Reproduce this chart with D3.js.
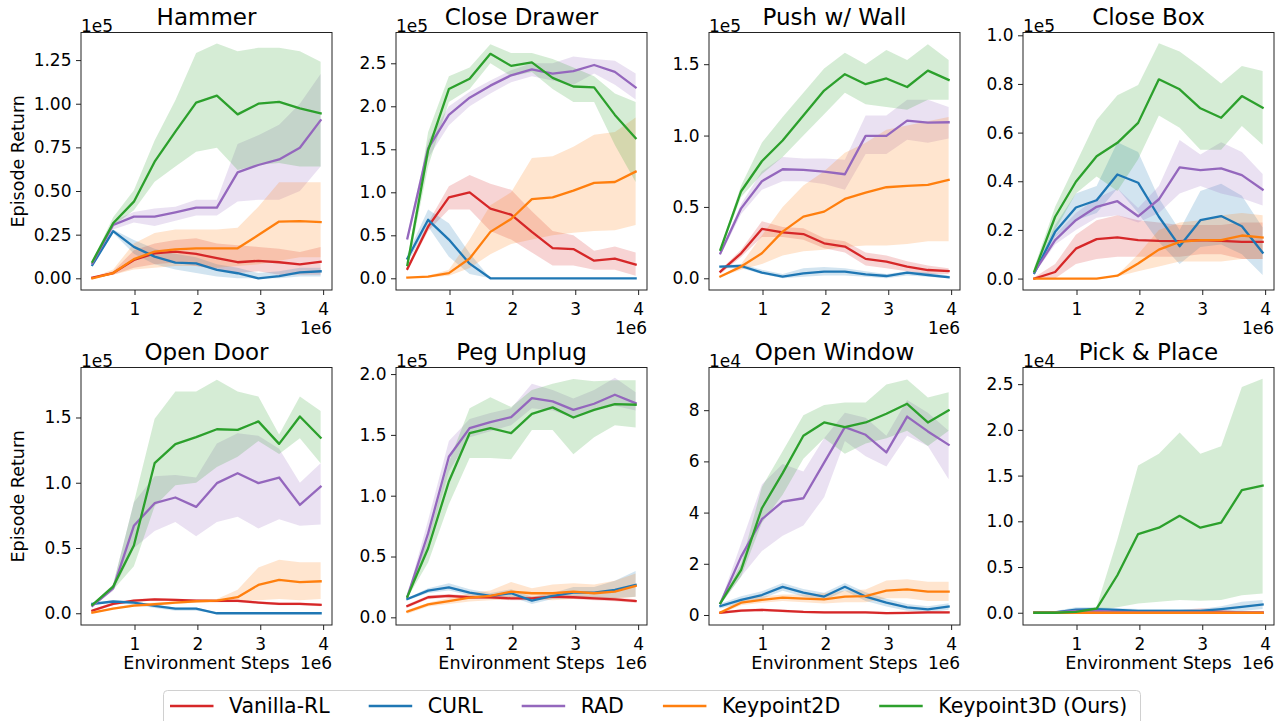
<!DOCTYPE html>
<html><head><meta charset="utf-8">
<script src="https://cdn.jsdelivr.net/npm/d3@7"></script>
<style>
html,body{margin:0;padding:0;background:#fff;}
svg text{font-family:"DejaVu Sans",sans-serif;fill:#000;}
</style></head>
<body>
<svg id="chart" width="1275" height="721"></svg>
<script>
// ---------- data ----------
const steps = [0.33, 0.66, 0.99, 1.32, 1.65, 1.98, 2.31, 2.64, 2.97, 3.30, 3.63, 3.96]; // x 1e6
const methods = ["Vanilla-RL", "CURL", "RAD", "Keypoint2D", "Keypoint3D (Ours)"];
const methodColors = ["#d62728", "#1f77b4", "#9467bd", "#ff7f0e", "#2ca02c"];
const tasks = ["Hammer", "Close Drawer", "Push w/ Wall", "Close Box", "Open Door", "Peg Unplug", "Open Window", "Pick & Place"];
const yExponent = ["1e5", "1e5", "1e5", "1e5", "1e5", "1e5", "1e4", "1e4"];
const yTicks = [
  [0, 0.25, 0.5, 0.75, 1.0, 1.25],
  [0, 0.5, 1.0, 1.5, 2.0, 2.5],
  [0, 0.5, 1.0, 1.5],
  [0, 0.2, 0.4, 0.6, 0.8, 1.0],
  [0, 0.5, 1.0, 1.5],
  [0, 0.5, 1.0, 1.5, 2.0],
  [0, 2, 4, 6, 8],
  [0, 0.5, 1.0, 1.5, 2.0, 2.5]
];
const yTickFormat = [".2f", ".1f", ".1f", ".1f", ".1f", ".1f", "d", ".1f"];
const yDomains = [[-0.067, 1.408], [-0.136, 2.858], [-0.082, 1.722], [-0.047, 1.0115],
                  [-0.09, 1.883], [-0.063, 2.054], [-0.391, 9.667], [-0.134, 2.682]];
const xTicks = [1, 2, 3, 4];
const xDomain = [0.149, 4.141];

// series order: Vanilla-RL, CURL, RAD, Keypoint2D, Keypoint3D
const hammerMean = [
  [0.004, 0.03, 0.105, 0.143, 0.153, 0.14, 0.115, 0.092, 0.1, 0.092, 0.08, 0.095],
  [0.076, 0.27, 0.18, 0.124, 0.09, 0.086, 0.048, 0.029, 0.0, 0.013, 0.034, 0.04],
  [0.086, 0.305, 0.353, 0.353, 0.378, 0.405, 0.405, 0.607, 0.649, 0.681, 0.748, 0.905],
  [0.0, 0.03, 0.11, 0.153, 0.166, 0.172, 0.172, 0.172, 0.248, 0.325, 0.328, 0.322],
  [0.095, 0.315, 0.439, 0.668, 0.84, 1.006, 1.046, 0.939, 1.0, 1.011, 0.973, 0.945]];
const hammerLo = [
  [0.0, 0.02, 0.06, 0.08, 0.09, 0.07, 0.05, 0.03, 0.04, 0.02, 0.02, 0.02],
  [0.07, 0.26, 0.14, 0.08, 0.05, 0.03, 0.01, 0.0, 0.0, 0.0, 0.01, 0.01],
  [0.08, 0.28, 0.32, 0.30, 0.33, 0.36, 0.36, 0.44, 0.45, 0.45, 0.50, 0.64],
  [0.0, 0.02, 0.05, 0.06, 0.07, 0.07, 0.06, 0.07, 0.08, 0.10, 0.12, 0.12],
  [0.086, 0.30, 0.39, 0.553, 0.64, 0.725, 0.748, 0.62, 0.65, 0.66, 0.64, 0.64]];
const hammerHi = [
  [0.005, 0.04, 0.16, 0.20, 0.22, 0.23, 0.20, 0.19, 0.18, 0.17, 0.15, 0.18],
  [0.08, 0.28, 0.22, 0.17, 0.14, 0.12, 0.08, 0.06, 0.03, 0.04, 0.06, 0.06],
  [0.09, 0.33, 0.38, 0.40, 0.41, 0.45, 0.45, 0.77, 0.82, 0.88, 1.0, 1.17],
  [0.005, 0.05, 0.20, 0.26, 0.28, 0.28, 0.28, 0.29, 0.41, 0.55, 0.55, 0.55],
  [0.10, 0.35, 0.505, 0.79, 1.02, 1.29, 1.345, 1.30, 1.32, 1.32, 1.30, 1.24]];

const drawerMean = [
  [0.11, 0.6, 0.94, 1.0, 0.81, 0.74, 0.54, 0.35, 0.34, 0.205, 0.23, 0.16],
  [0.23, 0.68, 0.45, 0.17, 0, 0, 0, 0, 0, 0, 0, 0],
  [0.465, 1.51, 1.9, 2.1, 2.24, 2.36, 2.43, 2.38, 2.41, 2.48, 2.4, 2.22],
  [0.008, 0.02, 0.06, 0.23, 0.54, 0.69, 0.92, 0.94, 1.02, 1.11, 1.12, 1.24],
  [0.155, 1.49, 2.2, 2.32, 2.61, 2.47, 2.51, 2.33, 2.23, 2.22, 1.9, 1.63]];
const drawerLo = [
  [0.09, 0.55, 0.8, 0.8, 0.55, 0.45, 0.3, 0.15, 0.15, 0.1, 0.1, 0.03],
  [0.18, 0.6, 0.25, 0.05, 0, 0, 0, 0, 0, 0, 0, 0],
  [0.43, 1.4, 1.78, 2.0, 2.15, 2.28, 2.35, 2.3, 2.25, 2.38, 2.25, 2.08],
  [0.0, 0.01, 0.03, 0.12, 0.28, 0.4, 0.45, 0.5, 0.53, 0.55, 0.56, 0.62],
  [0.1, 1.3, 2.05, 2.2, 2.5, 2.35, 2.4, 2.2, 2.05, 2.05, 1.55, 1.12]];
const drawerHi = [
  [0.13, 0.65, 1.07, 1.2, 1.1, 1.03, 0.78, 0.55, 0.5, 0.32, 0.37, 0.3],
  [0.28, 0.8, 0.64, 0.29, 0, 0, 0, 0, 0, 0, 0, 0],
  [0.5, 1.6, 2.0, 2.17, 2.3, 2.42, 2.5, 2.5, 2.58, 2.55, 2.53, 2.38],
  [0.01, 0.03, 0.1, 0.45, 0.85, 1.0, 1.4, 1.42, 1.53, 1.67, 1.7, 1.87],
  [0.2, 1.7, 2.35, 2.45, 2.72, 2.62, 2.62, 2.55, 2.45, 2.35, 2.15, 2.05]];

const pushMean = [
  [0.047, 0.175, 0.346, 0.322, 0.31, 0.245, 0.222, 0.136, 0.117, 0.082, 0.058, 0.051],
  [0.082, 0.086, 0.04, 0.012, 0.035, 0.047, 0.047, 0.028, 0.016, 0.04, 0.023, 0.007],
  [0.175, 0.49, 0.68, 0.764, 0.76, 0.748, 0.729, 0.998, 0.998, 1.105, 1.09, 1.093],
  [0.012, 0.082, 0.175, 0.327, 0.432, 0.467, 0.556, 0.6, 0.638, 0.647, 0.654, 0.69],
  [0.2, 0.61, 0.82, 0.965, 1.14, 1.315, 1.43, 1.36, 1.4, 1.34, 1.455, 1.39]];
const pushLo = [
  [0.03, 0.15, 0.29, 0.29, 0.27, 0.21, 0.18, 0.09, 0.07, 0.05, 0.03, 0.03],
  [0.07, 0.07, 0.03, 0.0, 0.01, 0.02, 0.02, 0.01, 0.0, 0.02, 0.01, 0.0],
  [0.16, 0.45, 0.62, 0.68, 0.68, 0.66, 0.62, 0.87, 0.87, 0.97, 0.95, 0.98],
  [0.01, 0.06, 0.1, 0.16, 0.19, 0.2, 0.22, 0.23, 0.23, 0.24, 0.26, 0.26],
  [0.19, 0.57, 0.73, 0.85, 1.0, 1.15, 1.3, 1.22, 1.2, 1.18, 1.25, 1.25]];
const pushHi = [
  [0.06, 0.2, 0.4, 0.36, 0.35, 0.28, 0.26, 0.18, 0.16, 0.12, 0.09, 0.07],
  [0.09, 0.1, 0.06, 0.03, 0.07, 0.08, 0.07, 0.05, 0.03, 0.05, 0.04, 0.02],
  [0.19, 0.52, 0.75, 0.85, 0.84, 0.84, 0.83, 1.14, 1.14, 1.25, 1.25, 1.2],
  [0.015, 0.1, 0.3, 0.5, 0.65, 0.75, 0.88, 0.95, 1.04, 1.07, 1.1, 1.13],
  [0.21, 0.65, 0.95, 1.13, 1.3, 1.47, 1.58, 1.5, 1.6, 1.53, 1.64, 1.53]];

const boxMean = [
  [0.0, 0.027, 0.123, 0.162, 0.169, 0.158, 0.155, 0.154, 0.158, 0.155, 0.151, 0.151],
  [0.023, 0.192, 0.292, 0.322, 0.428, 0.394, 0.254, 0.133, 0.24, 0.257, 0.215, 0.107],
  [0.027, 0.158, 0.24, 0.295, 0.318, 0.256, 0.326, 0.457, 0.446, 0.453, 0.425, 0.366],
  [0.0, 0.0, 0.0, 0.0, 0.012, 0.062, 0.119, 0.151, 0.158, 0.158, 0.177, 0.169],
  [0.03, 0.254, 0.398, 0.503, 0.558, 0.64, 0.819, 0.778, 0.7, 0.661, 0.75, 0.702]];
const boxLo = [
  [0.0, 0.0, 0.06, 0.08, 0.09, 0.09, 0.09, 0.09, 0.1, 0.1, 0.08, 0.08],
  [0.015, 0.17, 0.24, 0.27, 0.37, 0.27, 0.15, 0.06, 0.13, 0.14, 0.1, 0.015],
  [0.02, 0.14, 0.2, 0.25, 0.26, 0.23, 0.27, 0.35, 0.38, 0.35, 0.33, 0.3],
  [0.0, 0.0, 0.0, 0.0, 0.008, 0.03, 0.05, 0.07, 0.07, 0.07, 0.08, 0.08],
  [0.02, 0.2, 0.35, 0.42, 0.36, 0.49, 0.67, 0.62, 0.53, 0.53, 0.627, 0.55]];
const boxHi = [
  [0.005, 0.06, 0.18, 0.24, 0.26, 0.24, 0.23, 0.22, 0.22, 0.22, 0.23, 0.23],
  [0.03, 0.22, 0.35, 0.38, 0.56, 0.52, 0.33, 0.2, 0.36, 0.39, 0.34, 0.21],
  [0.035, 0.18, 0.27, 0.33, 0.37, 0.29, 0.38, 0.57, 0.51, 0.56, 0.52, 0.43],
  [0.0, 0.0, 0.0, 0.0, 0.015, 0.1, 0.2, 0.23, 0.24, 0.26, 0.27, 0.26],
  [0.048, 0.295, 0.473, 0.652, 0.754, 0.796, 0.967, 0.933, 0.871, 0.802, 0.874, 0.853]];

const doorMean = [
  [0.02, 0.072, 0.097, 0.107, 0.102, 0.097, 0.095, 0.095, 0.082, 0.072, 0.072, 0.064],
  [0.072, 0.09, 0.082, 0.056, 0.036, 0.036, 0.0, 0.0, 0.0, 0.0, 0.0, 0.0],
  [0.056, 0.19, 0.67, 0.843, 0.887, 0.815, 0.997, 1.073, 0.997, 1.04, 0.83, 0.97],
  [0.005, 0.036, 0.059, 0.069, 0.082, 0.092, 0.097, 0.123, 0.217, 0.256, 0.238, 0.245],
  [0.064, 0.204, 0.519, 1.15, 1.296, 1.35, 1.41, 1.405, 1.47, 1.298, 1.508, 1.345]];
const doorLo = [
  [0.01, 0.062, 0.087, 0.097, 0.092, 0.087, 0.085, 0.085, 0.072, 0.062, 0.062, 0.054],
  [0.065, 0.08, 0.065, 0.04, 0.02, 0.02, 0.0, 0.0, 0.0, 0.0, 0.0, 0.0],
  [0.05, 0.17, 0.5, 0.63, 0.7, 0.59, 0.7, 0.74, 0.65, 0.72, 0.67, 0.68],
  [0.0, 0.03, 0.05, 0.06, 0.07, 0.08, 0.085, 0.09, 0.1, 0.11, 0.1, 0.11],
  [0.05, 0.18, 0.36, 0.82, 0.98, 1.0, 1.12, 1.2, 1.32, 1.22, 1.34, 1.15]];
const doorHi = [
  [0.03, 0.082, 0.107, 0.117, 0.112, 0.107, 0.105, 0.105, 0.092, 0.082, 0.082, 0.074],
  [0.08, 0.1, 0.09, 0.065, 0.045, 0.045, 0.005, 0.0, 0.0, 0.0, 0.0, 0.0],
  [0.07, 0.22, 0.85, 1.05, 1.06, 1.04, 1.3, 1.38, 1.36, 1.26, 1.0, 1.15],
  [0.01, 0.045, 0.07, 0.08, 0.09, 0.1, 0.11, 0.18, 0.35, 0.41, 0.39, 0.39],
  [0.07, 0.22, 0.85, 1.49, 1.7, 1.7, 1.79, 1.7, 1.66, 1.37, 1.66, 1.55]];

const pegMean = [
  [0.093, 0.165, 0.176, 0.165, 0.165, 0.156, 0.156, 0.17, 0.165, 0.156, 0.148, 0.134],
  [0.15, 0.22, 0.247, 0.203, 0.176, 0.198, 0.137, 0.176, 0.203, 0.203, 0.225, 0.266],
  [0.17, 0.69, 1.32, 1.556, 1.605, 1.646, 1.802, 1.775, 1.706, 1.756, 1.83, 1.761],
  [0.047, 0.107, 0.134, 0.162, 0.176, 0.211, 0.198, 0.198, 0.211, 0.198, 0.211, 0.258],
  [0.17, 0.568, 1.117, 1.514, 1.556, 1.514, 1.673, 1.726, 1.643, 1.706, 1.753, 1.748]];
const pegLo = [
  [0.078, 0.15, 0.161, 0.15, 0.15, 0.141, 0.141, 0.155, 0.15, 0.141, 0.133, 0.119],
  [0.14, 0.2, 0.22, 0.18, 0.15, 0.17, 0.11, 0.15, 0.16, 0.16, 0.16, 0.17],
  [0.16, 0.6, 1.2, 1.48, 1.53, 1.58, 1.72, 1.7, 1.64, 1.7, 1.74, 1.7],
  [0.03, 0.09, 0.11, 0.13, 0.14, 0.15, 0.15, 0.14, 0.15, 0.15, 0.15, 0.17],
  [0.16, 0.45, 0.93, 1.31, 1.31, 1.3, 1.54, 1.54, 1.34, 1.48, 1.58, 1.56]];
const pegHi = [
  [0.108, 0.18, 0.191, 0.18, 0.18, 0.171, 0.171, 0.185, 0.18, 0.171, 0.163, 0.149],
  [0.16, 0.24, 0.28, 0.23, 0.2, 0.23, 0.17, 0.2, 0.25, 0.25, 0.3, 0.38],
  [0.18, 0.8, 1.45, 1.63, 1.68, 1.72, 1.92, 1.87, 1.8, 1.87, 1.97, 1.85],
  [0.06, 0.12, 0.16, 0.2, 0.22, 0.29, 0.24, 0.27, 0.28, 0.27, 0.3, 0.36],
  [0.18, 0.65, 1.28, 1.72, 1.81, 1.73, 1.87, 1.92, 1.96, 1.94, 1.95, 1.95]];

const windowMean = [
  [0.09, 0.17, 0.2, 0.16, 0.12, 0.1, 0.1, 0.1, 0.07, 0.08, 0.1, 0.1],
  [0.35, 0.59, 0.78, 1.1, 0.87, 0.72, 1.1, 0.72, 0.48, 0.3, 0.22, 0.33],
  [0.46, 2.28, 3.74, 4.43, 4.56, 5.95, 7.34, 7.04, 6.35, 7.75, 7.17, 6.65],
  [0.1, 0.48, 0.59, 0.68, 0.64, 0.61, 0.72, 0.74, 0.95, 1.0, 0.91, 0.91],
  [0.46, 1.76, 4.17, 5.54, 7.0, 7.52, 7.34, 7.52, 7.86, 8.25, 7.52, 7.99]];
const windowLo = [
  [0.04, 0.12, 0.15, 0.11, 0.07, 0.05, 0.05, 0.05, 0.02, 0.03, 0.05, 0.05],
  [0.25, 0.45, 0.63, 0.95, 0.72, 0.57, 0.95, 0.55, 0.33, 0.17, 0.1, 0.2],
  [0.4, 1.5, 2.5, 3.1, 3.5, 4.6, 6.8, 6.2, 5.8, 7.0, 6.6, 5.3],
  [0.05, 0.38, 0.48, 0.55, 0.5, 0.45, 0.5, 0.5, 0.65, 0.65, 0.55, 0.55],
  [0.4, 1.5, 3.6, 4.7, 6.1, 6.9, 6.3, 6.7, 6.9, 7.2, 6.6, 7.2]];
const windowHi = [
  [0.14, 0.22, 0.25, 0.21, 0.17, 0.15, 0.15, 0.15, 0.12, 0.13, 0.15, 0.15],
  [0.45, 0.73, 0.93, 1.25, 1.02, 0.87, 1.25, 0.89, 0.63, 0.43, 0.34, 0.46],
  [0.5, 2.8, 5.1, 5.9, 5.6, 6.9, 7.9, 7.7, 7.0, 8.4, 7.9, 7.2],
  [0.15, 0.6, 0.72, 0.8, 0.8, 0.85, 0.95, 1.0, 1.35, 1.4, 1.3, 1.3],
  [0.5, 2.0, 5.0, 6.4, 7.8, 8.2, 8.3, 8.3, 9.0, 9.2, 8.5, 8.7]];

const pickMean = [
  [0.0, 0.0, 0.0, 0.0, 0.0, 0.0, 0.0, 0.005, 0.015, 0.01, 0.0, 0.0],
  [0.0, 0.005, 0.035, 0.04, 0.03, 0.02, 0.02, 0.02, 0.02, 0.04, 0.065, 0.09],
  [0.0, 0.005, 0.02, 0.02, 0.01, 0.003, 0.003, 0.003, 0.005, 0.005, 0.003, 0.003],
  [0.0, 0.0, 0.0, 0.0, 0.0, 0.0, 0.0, 0.0, 0.0, 0.0, 0.0, 0.0],
  [0.0, 0.0, 0.01, 0.045, 0.41, 0.86, 0.93, 1.06, 0.93, 0.985, 1.34, 1.39]];
const pickLo = [
  [0.0, 0.0, 0.0, 0.0, 0.0, 0.0, 0.0, 0.0, 0.0, 0.0, 0.0, 0.0],
  [0.0, 0.0, 0.01, 0.02, 0.01, 0.005, 0.005, 0.005, 0.005, 0.01, 0.02, 0.04],
  [-0.005, -0.005, 0.0, 0.0, -0.005, -0.005, -0.005, -0.005, -0.005, -0.005, -0.005, -0.005],
  [-0.01, -0.01, -0.01, -0.01, -0.01, -0.01, -0.01, -0.01, -0.01, -0.01, -0.01, -0.01],
  [0.0, 0.0, 0.0, 0.02, 0.06, 0.1, 0.12, 0.14, 0.13, 0.14, 0.19, 0.21]];
const pickHi = [
  [0.003, 0.005, 0.01, 0.01, 0.01, 0.01, 0.02, 0.03, 0.05, 0.04, 0.01, 0.01],
  [0.003, 0.02, 0.06, 0.06, 0.05, 0.04, 0.04, 0.04, 0.04, 0.07, 0.12, 0.14],
  [0.01, 0.02, 0.04, 0.04, 0.025, 0.01, 0.01, 0.01, 0.015, 0.015, 0.01, 0.01],
  [0.01, 0.01, 0.01, 0.01, 0.01, 0.01, 0.01, 0.01, 0.01, 0.01, 0.01, 0.01],
  [0.0, 0.0, 0.02, 0.065, 0.8, 1.61, 1.74, 1.97, 1.74, 1.82, 2.47, 2.56]];

const taskMeans = [hammerMean, drawerMean, pushMean, boxMean, doorMean, pegMean, windowMean, pickMean];
const taskLos = [hammerLo, drawerLo, pushLo, boxLo, doorLo, pegLo, windowLo, pickLo];
const taskHis = [hammerHi, drawerHi, pushHi, boxHi, doorHi, pegHi, windowHi, pickHi];

// ---------- layout ----------
const svg = d3.select("#chart");
const colLeft = [81, 396, 709, 1023];
const rowTop = [32.5, 367.5];
const pw = 251, ph = 257.5;
const ink = "#222";

tasks.forEach((task, ti) => {
  const row = Math.floor(ti / 4), col = ti % 4;
  const L = colLeft[col], T = rowTop[row];
  const g = svg.append("g").attr("transform", `translate(${L},${T})`);
  const x = d3.scaleLinear().domain(xDomain).range([0, pw]);
  const y = d3.scaleLinear().domain(yDomains[ti]).range([ph, 0]);

  const clipId = "clip" + ti;
  g.append("clipPath").attr("id", clipId).append("rect").attr("width", pw).attr("height", ph);
  const plot = g.append("g").attr("clip-path", `url(#${clipId})`);

  const area = d3.area().x((d, i) => x(steps[i])).y0(d => y(d[0])).y1(d => y(d[1]));
  const line = d3.line().x((d, i) => x(steps[i])).y(d => y(d));

  methods.forEach((m, si) => {
    const band = steps.map((s, i) => [taskLos[ti][si][i], taskHis[ti][si][i]]);
    plot.append("path").datum(band).attr("d", area)
      .attr("fill", methodColors[si]).attr("fill-opacity", 0.2).attr("stroke", "none");
  });
  methods.forEach((m, si) => {
    plot.append("path").datum(taskMeans[ti][si]).attr("d", line)
      .attr("fill", "none").attr("stroke", methodColors[si]).attr("stroke-width", 2.3)
      .attr("stroke-linejoin", "round").attr("stroke-linecap", "square");
  });

  // axes
  const xAxis = d3.axisBottom(x).tickValues(xTicks).tickFormat(d3.format("d")).tickSize(5).tickPadding(4);
  const yAxis = d3.axisLeft(y).tickValues(yTicks[ti]).tickFormat(d3.format(yTickFormat[ti])).tickSize(5).tickPadding(4.5);
  const gx = g.append("g").attr("transform", `translate(0,${ph})`).call(xAxis);
  const gy = g.append("g").call(yAxis);
  [gx, gy].forEach(a => {
    a.select(".domain").remove();
    a.selectAll("line").attr("stroke", ink).attr("stroke-width", 1);
    a.selectAll("text").style("font-size", "17px").attr("fill", "#000");
  });
  gx.selectAll("text").attr("dy", "0.95em");

  // frame
  g.append("rect").attr("width", pw).attr("height", ph)
    .attr("fill", "none").attr("stroke", ink).attr("stroke-width", 1);

  // title and offset texts
  g.append("text").attr("x", pw / 2).attr("y", -7.5).attr("text-anchor", "middle")
    .style("font-size", "23px").text(task);
  g.append("text").attr("x", 0).attr("y", -1).style("font-size", "17px").text(yExponent[ti]);
  g.append("text").attr("x", pw).attr("y", ph + 44).attr("text-anchor", "end")
    .style("font-size", "17px").text("1e6");

  if (col === 0) {
    g.append("text").attr("transform", `translate(${-63},${ph / 2}) rotate(-90)`)
      .attr("text-anchor", "middle").attr("dy", "0.35em")
      .style("font-size", "17.5px").text("Episode Return");
  }
  if (row === 1) {
    g.append("text").attr("x", pw / 2).attr("y", ph + 44).attr("text-anchor", "middle")
      .style("font-size", "17.5px").text("Environment Steps");
  }
});

// ---------- legend ----------
const lg = svg.append("g");
lg.append("rect").attr("x", 163.5).attr("y", 690.5).attr("width", 977).attr("height", 45)
  .attr("rx", 4).attr("fill", "#fff").attr("stroke", "#d0d0d0").attr("stroke-width", 1);
let lx = 170;
const ly = 706;
methods.forEach((m, si) => {
  lg.append("line").attr("x1", lx).attr("x2", lx + 43.5).attr("y1", ly).attr("y2", ly)
    .attr("stroke", methodColors[si]).attr("stroke-width", 2.3);
  const t = lg.append("text").attr("x", lx + 59).attr("y", ly).attr("dy", "0.36em")
    .style("font-size", "20.5px").text(m);
  lx = lx + 59 + t.node().getComputedTextLength() + 39;
});
</script>
</body></html>
